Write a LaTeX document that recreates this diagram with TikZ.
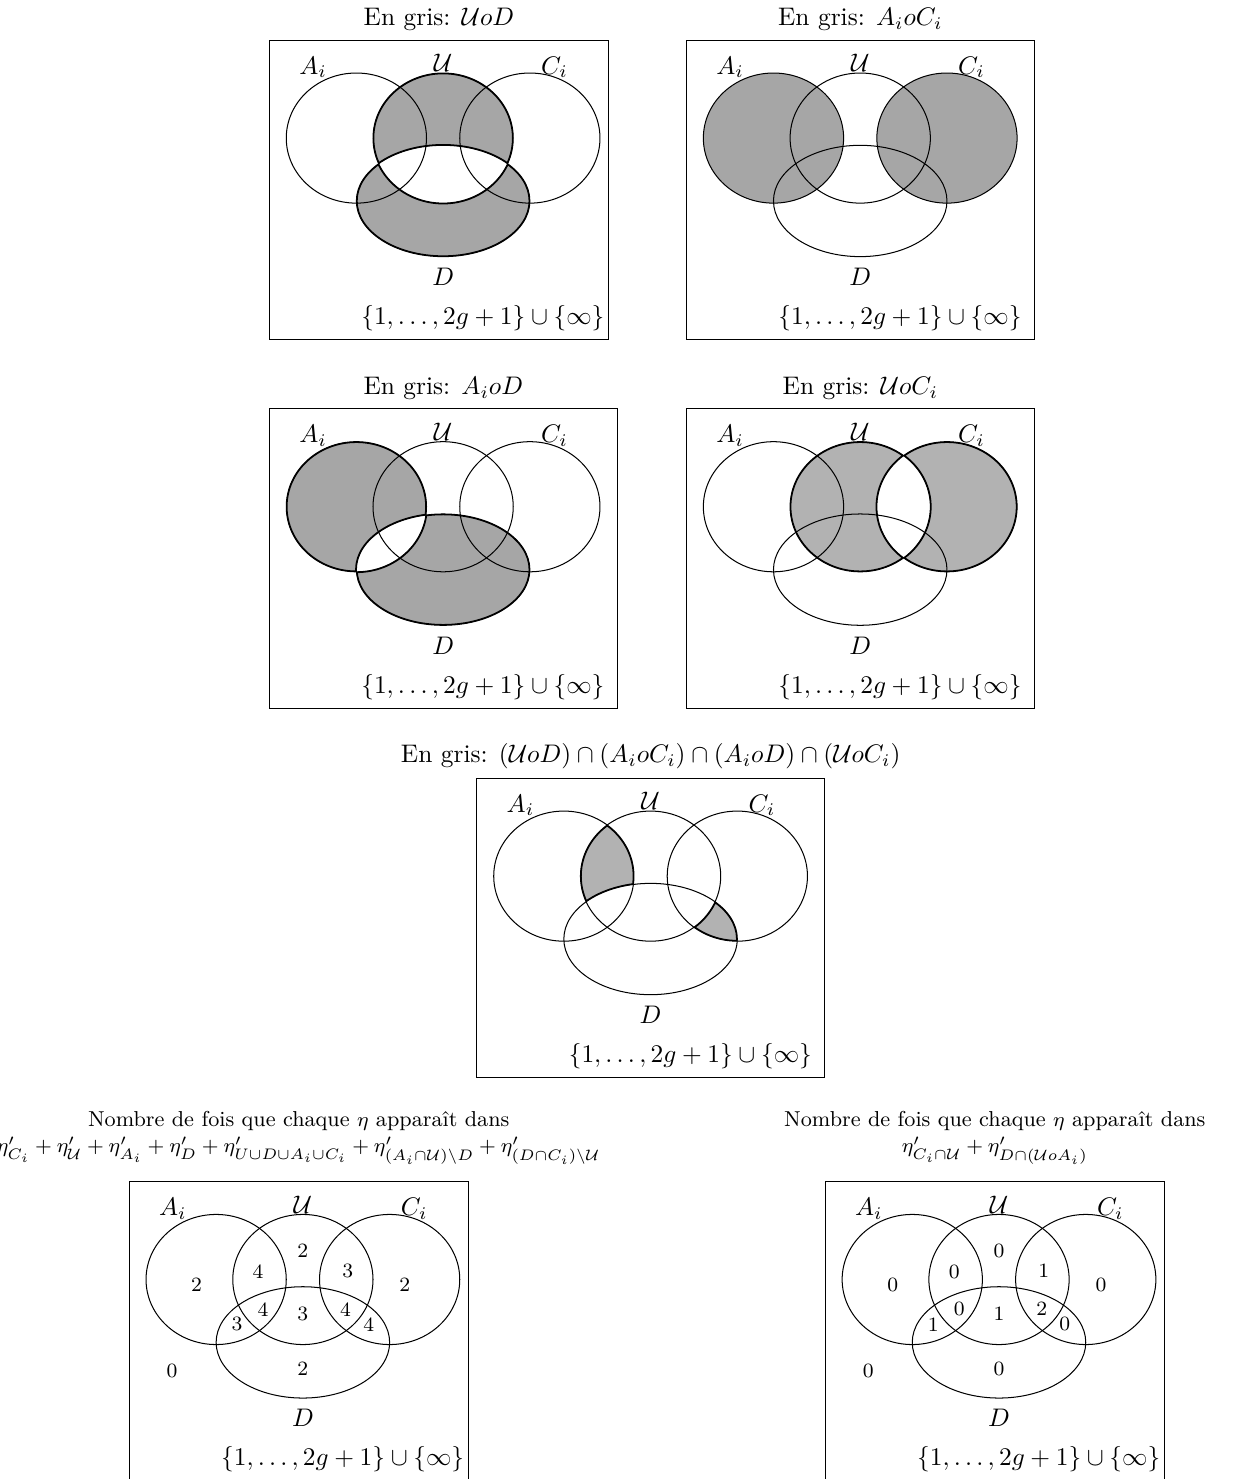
\documentclass[tikz,border=0pt]{standalone}
\usepackage{amsmath,amssymb}
\usepackage{tikz}
\usetikzlibrary{positioning}

% the four sets, drawn round the centre of U
\newcommand{\regA}{(-1.2,0) ellipse [x radius=0.97, y radius=0.9]}
\newcommand{\regU}{(0,0) ellipse [x radius=0.97, y radius=0.9]}
\newcommand{\regC}{(1.2,0) ellipse [x radius=0.97, y radius=0.9]}
\newcommand{\regD}{(0,-0.87) ellipse [x radius=1.2, y radius=0.77]}
\newcommand{\regall}{(-2.5,-2.9) rectangle (2.5,1.4)}

% frame, title, outlines and labels of one panel
\newcommand{\vennpanel}[3][]{%
  \node[frame, minimum width=#2] (box) at (-2.41,1.36) {};
  \node[caption, above=0pt of box, #1] (title) {#3};
  \draw \regA; \draw \regU; \draw \regC; \draw \regD;
  \node[lbl] (la) at (-1.8,0.98) {$A_i$};
  \node[lbl] (lu) at (0,1.04) {$\mathcal{U}$};
  \node[lbl] (lc) at (1.54,0.98) {$C_i$};
  \node[lbl] (ld) at (0,-1.92) {$D$};
  \node[lbl] (lset) at (0.55,-2.49) {$\{1,\ldots,2g+1\}\cup\{\infty\}$};
}

% centres of the regions, for the counts
\newcommand{\regionpoints}{%
  \coordinate (a) at (-1.47,-0.07);
  \coordinate (au) at (-0.62,0.11);
  \coordinate (u) at (0,0.40);
  \coordinate (uc) at (0.62,0.12);
  \coordinate (c) at (1.41,-0.07);
  \coordinate (ad) at (-0.91,-0.62);
  \coordinate (aud) at (-0.55,-0.41);
  \coordinate (ud) at (0,-0.48);
  \coordinate (ucd) at (0.59,-0.41);
  \coordinate (cd) at (0.91,-0.62);
  \coordinate (out) at (-1.81,-1.27);
  \coordinate (d) at (0,-1.24);
}

\begin{document}
\begin{tikzpicture}[
    frame/.style={rectangle, draw, inner sep=0pt, minimum height=4.14cm, anchor=north west},
    caption/.style={align=center},
    sumcaption/.style={font=\fontsize{8.5pt}{10.5pt}\selectfont, above=3pt of box},
    lbl/.style={inner sep=0pt},
    count/.style={inner sep=0pt, font=\footnotesize},
    darkfill/.style={fill=black!35},
    lightfill/.style={fill=black!30},
    rim/.style={line width=1pt}
]
\useasboundingbox (0,0) rectangle (17.08,-20.46);

% U o D
\begin{scope}[shift={(6.13,-1.91)}, name prefix=uod-]
  \begin{scope}[even odd rule]
    \clip \regU \regD;
    \fill[darkfill] \regall;
    \draw[rim] \regU \regD;
  \end{scope}
  \vennpanel{4.69cm}{En gris: $\mathcal{U}oD$}
\end{scope}

% A o C
\begin{scope}[shift={(11.90,-1.91)}, name prefix=aoc-]
  \begin{scope}[even odd rule]
    \clip \regA \regC;
    \fill[darkfill] \regall;
  \end{scope}
  \vennpanel{4.81cm}{En gris: $A_ioC_i$}
\end{scope}

% A o D
\begin{scope}[shift={(6.13,-7.01)}, name prefix=aod-]
  \begin{scope}[even odd rule]
    \clip \regA \regD;
    \fill[darkfill] \regall;
    \draw[rim] \regA \regD;
  \end{scope}
  \vennpanel{4.81cm}{En gris: $A_ioD$}
\end{scope}

% U o C
\begin{scope}[shift={(11.90,-7.01)}, name prefix=uoc-]
  \begin{scope}[even odd rule]
    \clip \regU \regC;
    \fill[lightfill] \regall;
    \draw[rim] \regU \regC;
  \end{scope}
  \vennpanel{4.81cm}{En gris: $\mathcal{U}oC_i$}
\end{scope}

% intersection of the four
\begin{scope}[shift={(9.00,-12.12)}, name prefix=all-]
  \begin{scope}[even odd rule]
    \clip \regA; \clip \regU;
    \clip \regall \regD;
    \fill[lightfill] \regall;
    \draw[rim] \regA \regU \regD;
  \end{scope}
  \begin{scope}[even odd rule]
    \clip \regC; \clip \regD;
    \clip \regall \regU;
    \fill[lightfill] \regall;
    \draw[rim] \regC \regU \regD;
  \end{scope}
  \vennpanel{4.81cm}{En gris: $(\mathcal{U}oD)\cap(A_ioC_i)\cap(A_ioD)\cap(\mathcal{U}oC_i)$}
\end{scope}

% counts, first sum
\begin{scope}[shift={(4.19,-17.70)}, name prefix=sum-]
  \vennpanel[sumcaption]{4.69cm}{Nombre de fois que chaque $\eta$ apparaît dans\\
    $\eta'_{C_i}+\eta'_{\mathcal{U}}+\eta'_{A_i}+\eta'_D+\eta'_{U\cup D\cup A_i\cup C_i}+\eta'_{(A_i\cap\mathcal{U})\setminus D}+\eta'_{(D\cap C_i)\setminus\mathcal{U}}$}
  \regionpoints
  \foreach \r/\v in {a/2, au/4, u/2, uc/3, c/2, ad/3, aud/4, ud/3, ucd/4, cd/4, out/0, d/2}
    \node[count] (n\r) at (\r) {\v};
\end{scope}

% counts, second sum
\begin{scope}[shift={(13.82,-17.70)}, name prefix=dif-]
  \vennpanel[sumcaption]{4.69cm}{Nombre de fois que chaque $\eta$ apparaît dans\\
    $\eta'_{C_i\cap\mathcal{U}}+\eta'_{D\cap(\mathcal{U}oA_i)}$}
  \regionpoints
  \foreach \r/\v in {a/0, au/0, u/0, uc/1, c/0, ad/1, aud/0, ud/1, ucd/2, cd/0, out/0, d/0}
    \node[count] (n\r) at (\r) {\v};
\end{scope}
\end{tikzpicture}
\end{document}
